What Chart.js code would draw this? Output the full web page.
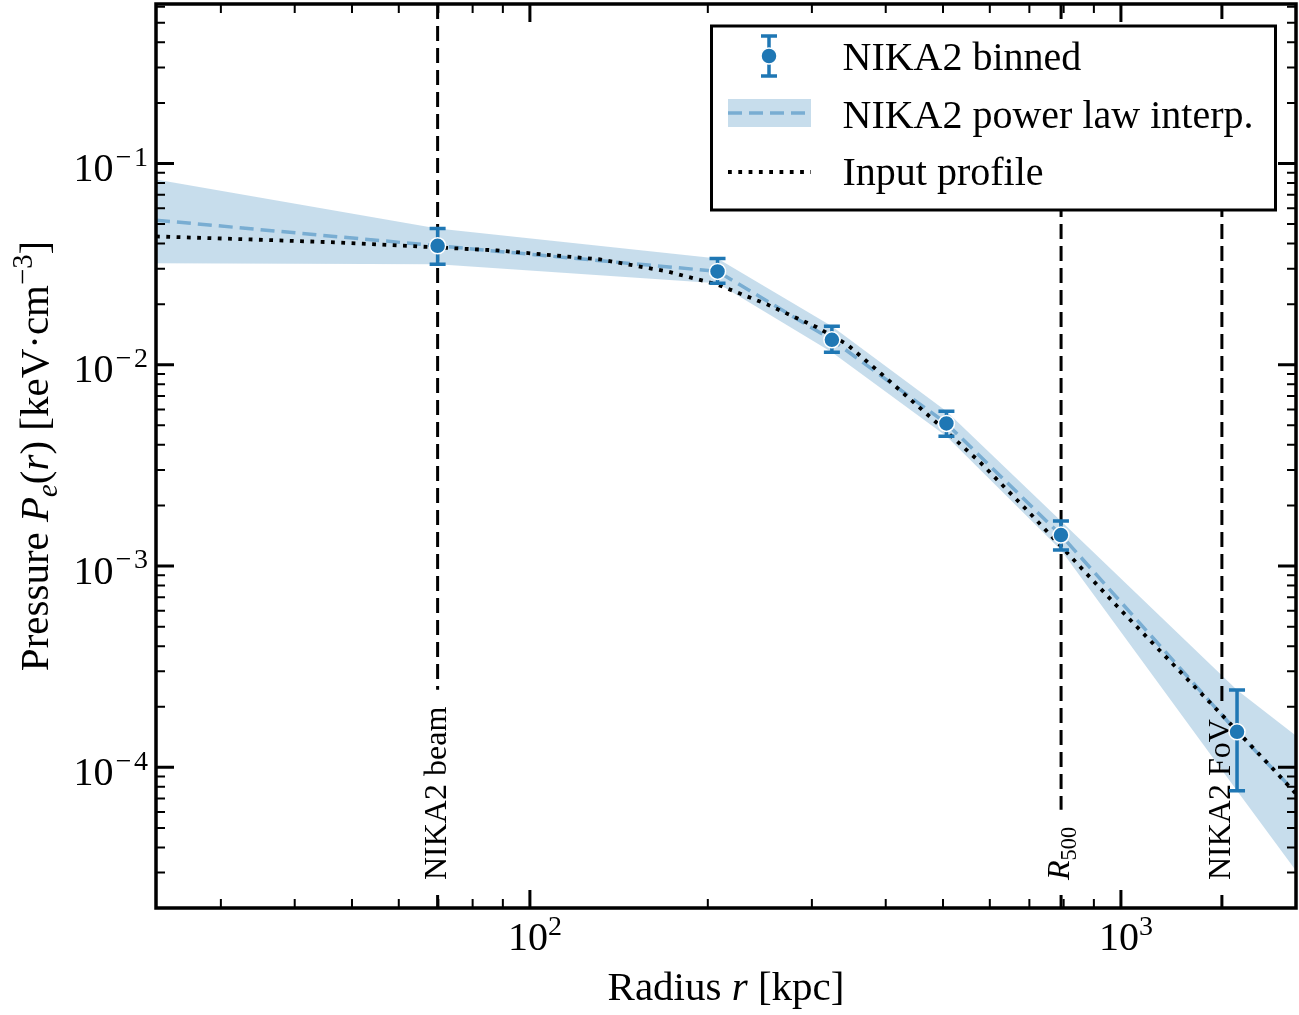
<!DOCTYPE html>
<html>
<head>
<meta charset="utf-8">
<script src="https://cdn.jsdelivr.net/npm/chart.js@4.4.1/dist/chart.umd.min.js"></script>
<style>
  html, body { margin: 0; padding: 0; background: #ffffff; }
  canvas { display: block; }
</style>
</head>
<body>
<canvas id="chart" width="1299" height="1015"></canvas>
<script>
// Axis limits (radius in kpc, pressure in keV cm^-3)
const xLimits = [23.3, 1978];
const yLimits = [2.0e-5, 0.62];

// Major tick positions and their exponent labels
const xTickValues = [100, 1000];
const xTickExponents = ['2', '3'];
const yTickValues = [1e-1, 1e-2, 1e-3, 1e-4];
const yTickExponents = ['\u200a\u2212\u200a1', '\u200a\u2212\u200a2', '\u200a\u2212\u200a3', '\u200a\u2212\u200a4'];

// NIKA2 binned pressure profile with error bar ends
const binnedR = [69.8, 207.7, 324.3, 506.7, 791.6, 1572];
const binnedP = [0.0390, 0.0291, 0.0133, 0.00511, 0.001425, 1.50e-4];
const binnedHigh = [0.04757, 0.03377, 0.01553, 0.005877, 0.001672, 2.424e-4];
const binnedLow = [0.03154, 0.02538, 0.01153, 0.004417, 0.001200, 7.64e-5];

// Power-law interpolation between bins, extended to the axis limits
const interpR = [23.3, 69.8, 207.7, 324.3, 506.7, 791.6, 1572, 1978];
const interpP = [0.0523, 0.0390, 0.0291, 0.0133, 0.00511, 0.001425, 1.50e-4, 7.47e-5];
const bandHigh = [0.0833, 0.04757, 0.03377, 0.01553, 0.005877, 0.001672, 2.424e-4, 1.433e-4];
const bandLow = [0.0319, 0.03154, 0.02538, 0.01153, 0.004417, 0.001200, 7.64e-5, 3.064e-5];

// Input (true) pressure profile
const inputR = [23.3, 33.6, 47.1, 64.4, 87.9, 131.4, 170.5, 207.3, 251.8, 305.9, 343.9,
                395.7, 484.6, 577.4, 696.0, 826.3, 984.5, 1196, 1471, 1808, 1978];
const inputP = [0.04342, 0.04195, 0.04054, 0.03873, 0.03700, 0.03338, 0.02911, 0.02509,
                0.01996, 0.01535, 0.01264, 0.008868, 0.005243, 0.003282, 0.001875,
                0.001096, 6.328e-4, 3.495e-4, 1.864e-4, 9.83e-5, 7.386e-5];

// Reference radii marked with vertical lines
const markerR = [69.8, 792, 1482];
const markerLabels = [
  [{ t: 'NIKA2 beam' }],
  [{ t: 'R', it: true }, { t: '500', sub: true }],
  [{ t: 'NIKA2 FoV' }]
];

const legendLabels = ['NIKA2 binned', 'NIKA2 power law interp.', 'Input profile'];

const C0 = '#1f77b4';
const BAND = 'rgba(31,119,180,0.25)';
const DASHED = 'rgb(121,173,210)';
const FONT = "'Liberation Serif','DejaVu Serif','Times New Roman',serif";

function fontOf(size, italic) {
  return (italic ? 'italic ' : '') + size + 'px ' + FONT;
}

// Draws a sequence of text runs (plain, italic, sub/superscript) on one baseline
function drawRuns(ctx, runs, x, y, size, align) {
  const parts = runs.map(r => {
    const s = (r.sub || r.sup) ? size * 0.7 : size;
    ctx.font = fontOf(s, r.it);
    return { r, s, w: ctx.measureText(r.t).width };
  });
  const total = parts.reduce((a, p) => a + p.w, 0);
  let cx = align === 'center' ? x - total / 2 : align === 'right' ? x - total : x;
  ctx.textAlign = 'left';
  ctx.textBaseline = 'alphabetic';
  parts.forEach(p => {
    ctx.font = fontOf(p.s, p.r.it);
    const dy = p.r.sup ? -size * 0.38 : p.r.sub ? size * 0.22 : 0;
    ctx.fillText(p.r.t, cx, y + dy);
    cx += p.w;
  });
  return total;
}

function runsWidth(ctx, runs, size) {
  let w = 0;
  runs.forEach(r => {
    ctx.font = fontOf((r.sub || r.sup) ? size * 0.7 : size, r.it);
    w += ctx.measureText(r.t).width;
  });
  return w;
}

function minorValues(lo, hi) {
  const out = [];
  for (let d = Math.floor(Math.log10(lo)); d <= Math.ceil(Math.log10(hi)); d++) {
    for (let k = 2; k <= 9; k++) {
      const v = k * Math.pow(10, d);
      if (v > lo && v < hi) out.push(v);
    }
  }
  return out;
}

const pts = (xs, ys) => xs.map((x, i) => ({ x, y: ys[i] }));

const decorations = {
  id: 'decorations',
  beforeDatasetDraw(chart, args) {
    const ctx = chart.ctx;
    const area = chart.chartArea;
    const xs = chart.scales.x, ys = chart.scales.y;
    if (args.index === 2) {
      // vertical reference lines with their rotated labels
      ctx.save();
      markerR.forEach((r, i) => {
        const px = xs.getPixelForValue(r);
        const len = runsWidth(ctx, markerLabels[i], 32);
        const textBottom = area.bottom - 28;
        const gapTop = textBottom - len - 17;
        ctx.strokeStyle = '#000';
        ctx.lineWidth = 3;
        ctx.setLineDash([15, 7]);
        ctx.beginPath();
        ctx.moveTo(px, area.top);
        ctx.lineTo(px, gapTop);
        ctx.moveTo(px, area.bottom - 13);
        ctx.lineTo(px, area.bottom);
        ctx.stroke();
        ctx.setLineDash([]);
        ctx.save();
        ctx.translate(px + 8, textBottom);
        ctx.rotate(-Math.PI / 2);
        ctx.fillStyle = '#000';
        drawRuns(ctx, markerLabels[i], 0, 0, 32, 'left');
        ctx.restore();
      });
      ctx.restore();
    }
    if (args.index === 4) {
      // error bars under the binned markers
      ctx.save();
      ctx.strokeStyle = C0;
      ctx.lineWidth = 3.5;
      binnedR.forEach((r, i) => {
        const px = xs.getPixelForValue(r);
        const top = ys.getPixelForValue(binnedHigh[i]);
        const bot = ys.getPixelForValue(binnedLow[i]);
        ctx.beginPath();
        ctx.moveTo(px, top); ctx.lineTo(px, bot);
        ctx.moveTo(px - 8, top); ctx.lineTo(px + 8, top);
        ctx.moveTo(px - 8, bot); ctx.lineTo(px + 8, bot);
        ctx.stroke();
      });
      ctx.restore();
    }
  },
  afterDraw(chart) {
    const ctx = chart.ctx;
    const a = chart.chartArea;
    const xs = chart.scales.x, ys = chart.scales.y;
    ctx.save();

    // legend
    const lx = 711.5, ly = 26, lw = 564, lh = 184;
    ctx.fillStyle = '#fff';
    ctx.fillRect(lx, ly, lw, lh);
    ctx.strokeStyle = '#000';
    ctx.lineWidth = 3;
    ctx.strokeRect(lx, ly, lw, lh);

    const mx = 769;
    ctx.strokeStyle = C0;
    ctx.lineWidth = 3.5;
    ctx.beginPath();
    ctx.moveTo(mx, 36); ctx.lineTo(mx, 76);
    ctx.moveTo(mx - 8, 36); ctx.lineTo(mx + 8, 36);
    ctx.moveTo(mx - 8, 76); ctx.lineTo(mx + 8, 76);
    ctx.stroke();
    ctx.beginPath();
    ctx.arc(mx, 56, 8, 0, Math.PI * 2);
    ctx.fillStyle = C0;
    ctx.fill();
    ctx.strokeStyle = '#fff';
    ctx.lineWidth = 1.5;
    ctx.stroke();

    ctx.fillStyle = BAND;
    ctx.fillRect(728, 99, 83, 28);
    ctx.strokeStyle = DASHED;
    ctx.lineWidth = 3.5;
    ctx.setLineDash([14, 7]);
    ctx.beginPath();
    ctx.moveTo(728, 113); ctx.lineTo(811, 113);
    ctx.stroke();

    ctx.strokeStyle = '#000';
    ctx.lineWidth = 3.8;
    ctx.setLineDash([3.8, 6.5]);
    ctx.beginPath();
    ctx.moveTo(728, 172); ctx.lineTo(811, 172);
    ctx.stroke();
    ctx.setLineDash([]);

    ctx.fillStyle = '#000';
    const rowBase = [70, 127.5, 185];
    legendLabels.forEach((t, i) => drawRuns(ctx, [{ t }], 842.5, rowBase[i], 40, 'left'));

    // inward ticks on all four sides
    ctx.strokeStyle = '#000';
    const tickX = (v, len, w) => {
      const px = xs.getPixelForValue(v);
      ctx.lineWidth = w;
      ctx.beginPath();
      ctx.moveTo(px, a.bottom); ctx.lineTo(px, a.bottom - len);
      ctx.moveTo(px, a.top); ctx.lineTo(px, a.top + len);
      ctx.stroke();
    };
    const tickY = (v, len, w) => {
      const py = ys.getPixelForValue(v);
      ctx.lineWidth = w;
      ctx.beginPath();
      ctx.moveTo(a.left, py); ctx.lineTo(a.left + len, py);
      ctx.moveTo(a.right, py); ctx.lineTo(a.right - len, py);
      ctx.stroke();
    };
    minorValues(xLimits[0], xLimits[1]).forEach(v => tickX(v, 9, 2));
    minorValues(yLimits[0], yLimits[1]).forEach(v => tickY(v, 9, 2));
    xTickValues.forEach(v => tickX(v, 18, 3));
    yTickValues.forEach(v => tickY(v, 18, 3));

    // frame
    ctx.lineWidth = 3.5;
    ctx.strokeRect(a.left, a.top, a.right - a.left, a.bottom - a.top);

    // tick labels
    ctx.fillStyle = '#000';
    xTickValues.forEach((v, i) => {
      const px = xs.getPixelForValue(v);
      drawRuns(ctx, [{ t: '10' }, { t: xTickExponents[i], sup: true }], px + 5, a.bottom + 42, 40, 'center');
    });
    yTickValues.forEach((v, i) => {
      const py = ys.getPixelForValue(v);
      drawRuns(ctx, [{ t: '10' }, { t: yTickExponents[i], sup: true }], a.left - 8, py + 17.5, 40, 'right');
    });

    // axis titles
    drawRuns(ctx, [{ t: 'Radius ' }, { t: 'r', it: true }, { t: ' [kpc]' }],
      (a.left + a.right) / 2, 1000, 41, 'center');
    ctx.save();
    ctx.translate(48, (a.top + a.bottom) / 2);
    ctx.rotate(-Math.PI / 2);
    drawRuns(ctx, [
      { t: 'Pressure ' }, { t: 'P', it: true }, { t: 'e', it: true, sub: true },
      { t: '(' }, { t: 'r', it: true }, { t: ') [keV\u00b7cm' },
      { t: '\u22123', sup: true }, { t: ']' }
    ], 0, 0, 41, 'center');
    ctx.restore();

    ctx.restore();
  }
};

new Chart(document.getElementById('chart'), {
  type: 'line',
  data: {
    datasets: [
      { label: 'band high', data: pts(interpR, bandHigh), fill: '+1', backgroundColor: BAND,
        borderColor: 'rgba(0,0,0,0)', borderWidth: 0, pointRadius: 0, order: 6 },
      { label: 'band low', data: pts(interpR, bandLow), fill: false,
        borderColor: 'rgba(0,0,0,0)', borderWidth: 0, pointRadius: 0, order: 5 },
      { label: 'NIKA2 power law interp.', data: pts(interpR, interpP), fill: false,
        borderColor: DASHED, borderWidth: 3.5, borderDash: [14, 7], pointRadius: 0, order: 4 },
      { label: 'Input profile', data: pts(inputR, inputP), fill: false,
        borderColor: '#000', borderWidth: 3.8, borderDash: [3.8, 6.5], borderCapStyle: 'butt',
        pointRadius: 0, order: 3 },
      { label: 'NIKA2 binned', data: pts(binnedR, binnedP), showLine: false,
        pointRadius: 8, pointBackgroundColor: C0, pointBorderColor: '#fff', pointBorderWidth: 1.5, order: 1 }
    ]
  },
  options: {
    responsive: false,
    animation: false,
    devicePixelRatio: 1,
    layout: { autoPadding: false, padding: { left: 156, right: 3, top: 4, bottom: 107 } },
    elements: { line: { tension: 0 } },
    plugins: { legend: { display: false }, tooltip: { enabled: false } },
    scales: {
      x: { type: 'logarithmic', min: xLimits[0], max: xLimits[1], display: false },
      y: { type: 'logarithmic', min: yLimits[0], max: yLimits[1], display: false }
    }
  },
  plugins: [decorations]
});
</script>
</body>
</html>
